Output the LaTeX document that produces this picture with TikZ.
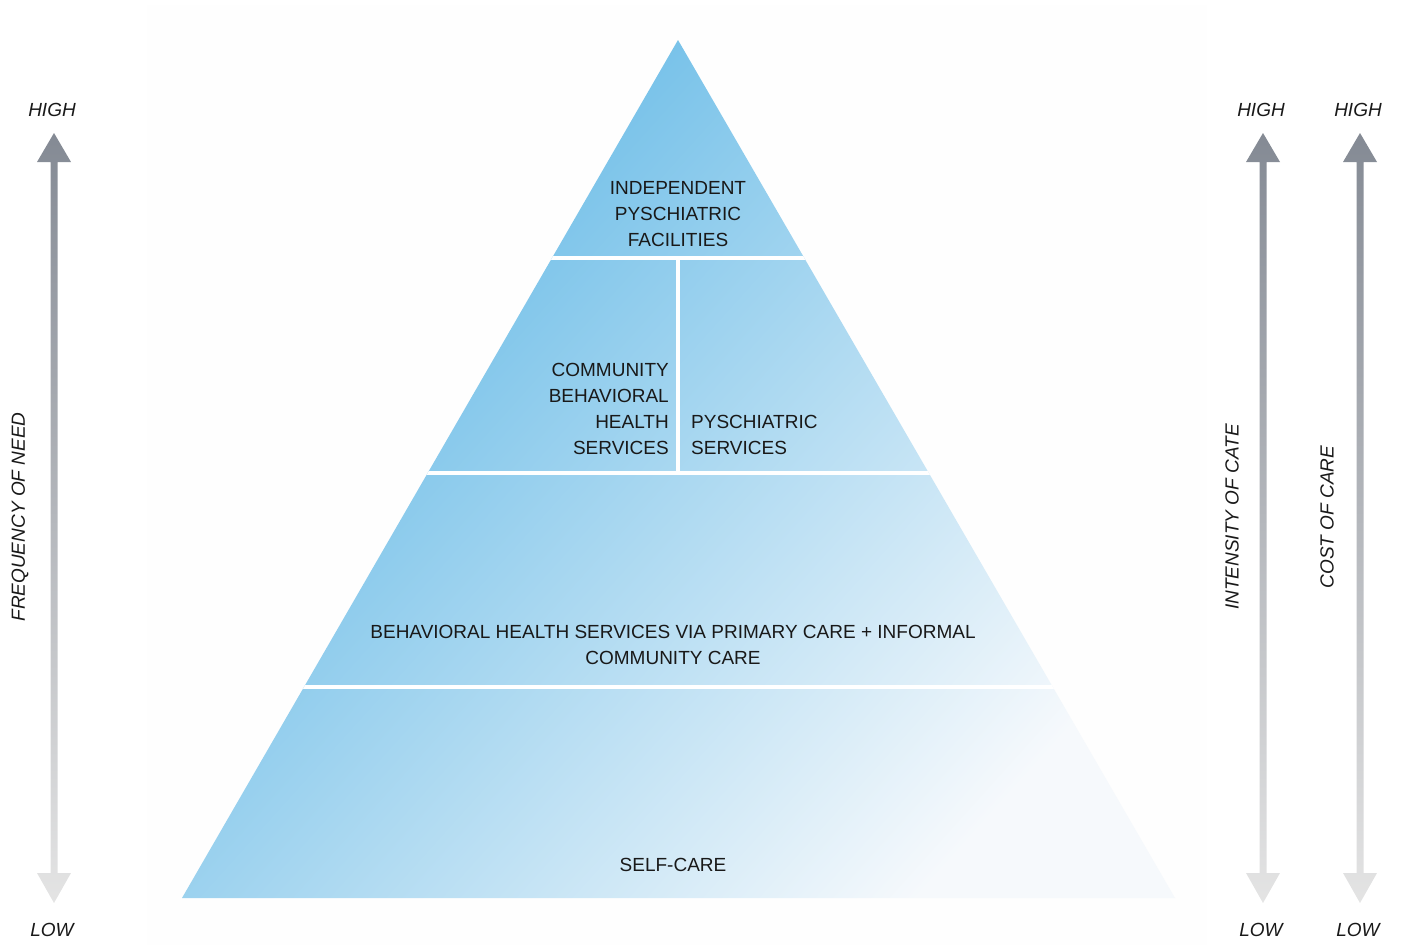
\documentclass[tikz,border=0pt]{standalone}
\usepackage{fontspec}
\setmainfont{Liberation Sans}
\definecolor{tierblue}{RGB}{92,182,229}
\definecolor{tiermid}{RGB}{168,212,238}
\definecolor{tierwhite}{RGB}{246,249,252}
\definecolor{bartop}{RGB}{132,138,148}
\definecolor{barbot}{RGB}{228,228,228}
\begin{document}
\begin{tikzpicture}[x=1pt,y=-1pt, line join=round]
  \tikzset{
    tier/.style={font=\fontsize{19}{26}\selectfont, text=black!90, inner sep=0pt},
    scalelabel/.style={font=\fontsize{19}{22}\selectfont\itshape, text=black!90, inner sep=0pt},
    divider/.style={white, line width=4pt},
  }
  \useasboundingbox (0,0) rectangle (1405,945);
  \fill[black!0.4] (147,5) rectangle (1207,945);
  % pyramid
  \coordinate (apex) at (678,40);
  \coordinate (bl) at (182,898);
  \coordinate (br) at (1175,898);
  \shade[top color=tierblue, middle color=tiermid, bottom color=tierwhite, shading angle=48]
    (apex) -- (bl) -- (br) -- cycle;
  \begin{scope}
    \clip (apex) -- (bl) -- (br) -- cycle;
    \foreach \ly in {258,473,687}
      \draw[divider] (150,\ly) -- (1200,\ly);
    \draw[divider] (678,258) -- (678,473);
  \end{scope}
  % tier texts
  \node[tier, align=center] (ipf) at (678,214) {INDEPENDENT\\PYSCHIATRIC\\FACILITIES};
  \node[tier, align=right, anchor=east] (cbhs) at (669,409) {COMMUNITY\\BEHAVIORAL\\HEALTH\\SERVICES};
  \node[tier, align=left, anchor=west] (ps) at (691,435) {PYSCHIATRIC\\SERVICES};
  \node[tier, align=center] (bhs) at (673,645) {BEHAVIORAL HEALTH SERVICES VIA PRIMARY CARE + INFORMAL\\COMMUNITY CARE};
  \node[tier] (self) at (673,865) {SELF-CARE};
  % scales
  \foreach \ax/\nm in {54/freq,1263/int,1360/cost}{
    \shade[top color=bartop, bottom color=barbot]
      (\ax,133) -- (\ax+17,162) -- (\ax+3.5,162) -- (\ax+3.5,873) -- (\ax+17,873)
      -- (\ax,903) -- (\ax-17,873) -- (\ax-3.5,873) -- (\ax-3.5,162) -- (\ax-17,162) -- cycle;
    \node[scalelabel] (\nm-high) at (\ax-2,110) {HIGH};
    \node[scalelabel] (\nm-low) at (\ax-2,930) {LOW};
  }
  \node[scalelabel, rotate=90] (freq-lab) at (20,517) {FREQUENCY OF NEED};
  \node[scalelabel, rotate=90] (int-lab) at (1232,517) {INTENSITY OF CATE};
  \node[scalelabel, rotate=90] (cost-lab) at (1327,517) {COST OF CARE};
\end{tikzpicture}
\end{document}
